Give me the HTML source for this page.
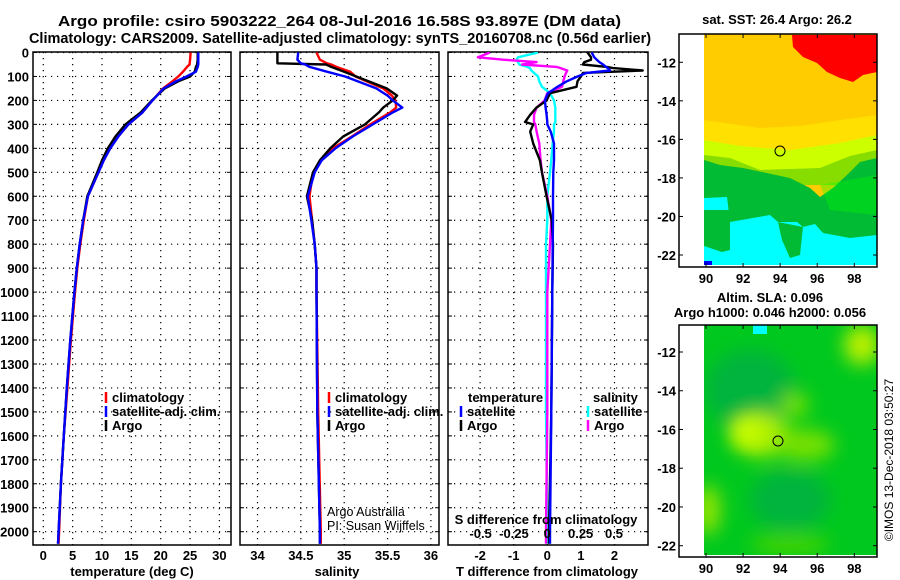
<!DOCTYPE html>
<html><head><meta charset="utf-8"><style>
html,body{margin:0;padding:0;background:#fff;}
svg{display:block;font-family:"Liberation Sans",sans-serif;}
.b{font-weight:bold;font-size:13px;}
.t{font-weight:bold;font-size:14.5px;}
</style></head><body>
<svg id="c" width="900" height="580" viewBox="0 0 900 580" xmlns="http://www.w3.org/2000/svg">
<defs>
<filter id="bl" x="-50%" y="-50%" width="200%" height="200%"><feGaussianBlur stdDeviation="9"/></filter>
<clipPath id="clipB"><rect x="704" y="325" width="173" height="230"/></clipPath>
<clipPath id="c1"><rect x="33" y="52" width="198" height="493"/></clipPath>
<clipPath id="c2"><rect x="240" y="52" width="199" height="493"/></clipPath>
<clipPath id="c3"><rect x="448" y="52" width="200" height="493"/></clipPath>
</defs>
<text class="t" x="58" y="26" textLength="563" lengthAdjust="spacingAndGlyphs">Argo profile: csiro 5903222_264 08-Jul-2016 16.58S 93.897E (DM data)</text>
<text class="t" x="340" y="43" text-anchor="middle">Climatology: CARS2009. Satellite-adjusted climatology: synTS_20160708.nc (0.56d earlier)</text>

<!-- SST map -->
<g>
<rect x="704" y="34" width="173" height="231" fill="#ffcc00"/>
<polygon fill="#ff0000" points="792,35 877,35 877,72 863,75 853,82 840,78 827,72 817,63 803,57 793,47"/>
<polygon fill="#ffe000" points="704,120 760,128 800,126 840,120 877,115 877,160 704,160"/>
<polygon fill="#ccff00" points="704,140 740,146 790,150 840,143 877,135 877,182 704,175"/>
<polygon fill="#88dd00" points="704,155 730,158 760,170 820,168 850,156 877,150 877,185 704,185"/>
<polygon fill="#00bb33" points="704,160 720,165 743,168 790,178 810,188 820,197 833,188 847,175 860,162 877,158 877,240 704,240"/>
<polygon fill="#00ff00" opacity="0.35" points="820,185 877,175 877,215 830,210"/>
<polygon fill="#00ffff" points="704,198 727,197 730,222 770,215 778,222 797,222 803,227 815,224 823,233 850,238 877,235 877,265 704,265"/>
<polygon fill="#00bb33" points="704,210 730,210 730,250 722,252 704,246"/>
<polygon fill="#00bb33" points="778,222 803,227 800,255 790,258 782,240"/>
<rect x="704" y="261" width="8" height="4" fill="#0000ff"/>
<circle cx="780" cy="151" r="5" fill="none" stroke="#000" stroke-width="1"/>
</g>
<!-- SLA map -->
<g clip-path="url(#clipB)">
<rect x="704" y="325" width="173" height="230" fill="#00c81e"/>
<g filter="url(#bl)">
<ellipse cx="750" cy="390" rx="45" ry="40" fill="#00b43c"/>
<ellipse cx="790" cy="500" rx="40" ry="30" fill="#00b43c"/>
<ellipse cx="760" cy="435" rx="30" ry="22" fill="#aaee00"/>
<ellipse cx="805" cy="445" rx="30" ry="16" fill="#77e000"/>
<ellipse cx="795" cy="405" rx="14" ry="12" fill="#77e000"/>
<ellipse cx="862" cy="345" rx="18" ry="20" fill="#bbf000"/>
<ellipse cx="708" cy="510" rx="12" ry="25" fill="#99e600"/>
<ellipse cx="790" cy="545" rx="40" ry="10" fill="#44d400"/>
</g>
<ellipse cx="748" cy="432" rx="14" ry="12" fill="#ccff00" filter="url(#bl)"/>
<rect x="753" y="325" width="14" height="9" fill="#00ffff"/>
<circle cx="778" cy="441" r="5" fill="none" stroke="#000" stroke-width="1"/>
</g>
<g id="axes"></g>
<text class="b" x="777" y="24" text-anchor="middle">sat. SST: 26.4 Argo: 26.2</text>
<text class="b" x="770" y="302" text-anchor="middle">Altim. SLA: 0.096</text>
<text class="b" x="770" y="317" text-anchor="middle">Argo h1000: 0.046 h2000: 0.056</text>
<text x="893" y="460" font-size="12" text-anchor="middle" transform="rotate(-90 893 460)">©IMOS 13-Dec-2018 03:50:27</text>
<text x="327" y="516" font-size="12.5">Argo Australia</text>
<text x="327" y="530" font-size="12.5">PI: Susan Wijffels</text>
</svg>
<script>
// ---- data ----
const tDepth=[0,30,50,60,80,100,120,150,200,250,300,350,400,450,500,600,700,800,900,1000,1200,1400,1600,1800,2000,2050];
const tArgo=[26.3,26.3,26.2,26.0,25.8,25.0,23.0,20.7,18.5,16.6,14.0,12.3,11.0,10.0,9.2,7.5,6.8,6.2,5.7,5.3,4.6,4.0,3.5,3.0,2.6,2.5];
const tSat=[26.4,26.4,26.4,26.3,26.0,24.4,22.6,20.5,18.6,16.9,14.5,12.8,11.4,10.3,9.4,7.6,6.8,6.2,5.7,5.3,4.6,4.0,3.5,3.0,2.6,2.5];
const tClim=[25.1,25.0,24.9,24.5,23.8,23.0,22.0,20.4,18.6,16.9,14.5,12.8,11.4,10.3,9.4,7.6,6.9,6.3,5.8,5.4,4.7,4.1,3.5,3.0,2.7,2.6];
const sDepth=[0,30,45,50,60,80,100,150,180,200,230,250,300,350,400,450,500,600,700,800,900,1000,1500,2000,2050];
const sArgo=[34.23,34.23,34.23,34.79,34.85,35.0,35.14,35.49,35.61,35.56,35.45,35.4,35.24,34.99,34.84,34.72,34.64,34.57,34.63,34.66,34.68,34.68,34.69,34.72,34.72];
const sSat=[34.47,34.46,34.5,34.55,34.6,34.8,35.01,35.37,35.5,35.56,35.67,35.56,35.33,35.1,34.9,34.74,34.66,34.58,34.62,34.66,34.68,34.68,34.69,34.72,34.72];
const sClim=[34.68,34.72,34.8,34.85,34.91,35.07,35.13,35.45,35.55,35.59,35.6,35.53,35.3,35.09,34.87,34.74,34.64,34.6,34.63,34.66,34.68,34.68,34.7,34.73,34.73];
const dDepth=[0,20,30,40,50,60,65,75,85,100,120,143,170,200,230,260,290,300,330,380,450,500,600,700,800,1000,1500,2000,2050];
const dTArgo=[1.2,1.3,1.3,1.1,1.06,1.77,1.96,2.84,1.06,1.0,0.9,0.87,0.08,-0.02,-0.32,-0.51,-0.66,-0.42,-0.51,-0.42,-0.22,-0.16,-0.02,0.13,0.17,0.15,0.12,0.05,0.05];
const dTSat=[1.32,1.4,1.47,1.55,1.66,1.75,1.8,1.87,1.17,0.9,0.58,0.3,0.02,-0.07,-0.05,-0.02,0,0,0.1,0.2,0.2,0.18,0.17,0.17,0.16,0.15,0.12,0.08,0.08];
const dSArgo=[-0.43,-0.52,-0.33,-0.08,-0.19,0.07,0.1,0.15,0.14,0.13,0.12,0.11,0,-0.02,-0.08,-0.1,-0.1,-0.09,-0.08,-0.06,-0.05,-0.04,0,0.03,0.02,0,0,-0.01,-0.01];
const dSSat=[-0.07,-0.22,-0.23,-0.22,-0.21,-0.15,-0.13,-0.12,-0.1,-0.07,-0.06,-0.04,0.02,0.05,0.06,0.06,0.06,0.05,0.05,0.04,0.03,0.02,0,0,-0.01,-0.01,-0.01,0,0];
const depthTicks=[0,100,200,300,400,500,600,700,800,900,1000,1100,1200,1300,1400,1500,1600,1700,1800,1900,2000];
const tTicks=[0,5,10,15,20,25,30];
const sTicks=[34,34.5,35,35.5,36];
const dTTicks=[-2,-1,0,1,2];
const dSTicks=[-0.5,-0.25,0,0.25,0.5];
const latTicks=[-12,-14,-16,-18,-20,-22];
const lonTicks=[90,92,94,96,98];

const NS='http://www.w3.org/2000/svg';
const g=document.getElementById('axes');
function el(tag,at,parent,txt){const e=document.createElementNS(NS,tag);for(const k in at)e.setAttribute(k,at[k]);if(txt!==undefined)e.textContent=txt;(parent||g).appendChild(e);return e;}
const yD=d=>52.5+d*0.2396;
const xT=v=>43.3+v*5.87;
const xS=v=>257.5+(v-34)*86.7;
const xDT=v=>547.3+v*33.6;
const xDS=v=>547.3+v*133.4;

function panel(name,x0,x1,ticks,fx,fmt){
  const p=el('g',{});
  
  
  ticks.forEach(t=>{el('line',{x1:fx(t),x2:fx(t),y1:52,y2:545,stroke:'#000','stroke-dasharray':'1.2,4.8','stroke-width':1.2},p);});
  depthTicks.forEach(d=>{el('line',{x1:x0,x2:x1,y1:yD(d),y2:yD(d),stroke:'#000','stroke-dasharray':'1.2,4.8','stroke-width':1.2},p);
    el('line',{x1:x0,x2:x0+4,y1:yD(d),y2:yD(d),stroke:'#000'},p);el('line',{x1:x1-4,x2:x1,y1:yD(d),y2:yD(d),stroke:'#000'},p);});
  if(fmt){ticks.forEach(t=>{const tx=el('text',{x:fx(t),y:560,'text-anchor':'middle',class:'b'},p,fmt(t));
    
    });}
  el('rect',{x:x0,y:52,width:x1-x0,height:493,fill:'none',stroke:'#000','stroke-width':1.5},p);
  return p;
}
function line(p,xs,ds,fx,color,clip,name){
  const pts=xs.map((v,i)=>fx(v).toFixed(1)+','+yD(ds[i]).toFixed(1)).join(' ');
  const l=el('polyline',{points:pts,fill:'none',stroke:color,'stroke-width':2.4,'stroke-linejoin':'round','clip-path':clip},p);
  
  
}
function legend(p,x,y,color,label,name){
  el('line',{x1:x,x2:x,y1:y-10,y2:y+1,stroke:color,'stroke-width':2.5},p);
  const t=el('text',{x:x+6,y:y,class:'b'},p,label);
  
  
}
// panel 1
const p1=panel('temperature-panel',33,231,tTicks,xT,v=>String(v));
depthTicks.forEach(d=>{const t=el('text',{x:29,y:yD(d)+5,'text-anchor':'end',class:'b'},p1,String(d));
  
  });
line(p1,tClim,tDepth,xT,'#ff0000','url(#c1)','temperature-climatology-line');
line(p1,tArgo,tDepth,xT,'#000000','url(#c1)','temperature-argo-line');
line(p1,tSat,tDepth,xT,'#0000ff','url(#c1)','temperature-satellite-line');
legend(p1,106,402,'#ff0000','climatology','legend-climatology');
legend(p1,106,416,'#0000ff','satellite-adj. clim.','legend-satellite-adj');
legend(p1,106,430,'#000000','Argo','legend-argo');
el('text',{x:132,y:576,'text-anchor':'middle',class:'b'},p1,'temperature (deg C)');
// panel 2
const p2=panel('salinity-panel',240,439,sTicks,xS,v=>String(v));
line(p2,sClim,sDepth,xS,'#ff0000','url(#c2)','salinity-climatology-line');
line(p2,sArgo,sDepth,xS,'#000000','url(#c2)','salinity-argo-line');
line(p2,sSat,sDepth,xS,'#0000ff','url(#c2)','salinity-satellite-line');
legend(p2,329,402,'#ff0000','climatology','legend-climatology-s');
legend(p2,329,416,'#0000ff','satellite-adj. clim.','legend-satellite-adj-s');
legend(p2,329,430,'#000000','Argo','legend-argo-s');
el('text',{x:337,y:576,'text-anchor':'middle',class:'b'},p2,'salinity');
// panel 3
const p3=panel('difference-panel',448,648,dTTicks,xDT,v=>String(v));
line(p3,dSSat,dDepth,xDS,'#00ffff','url(#c3)','salinity-diff-satellite-line');
line(p3,dSArgo,dDepth,xDS,'#ff00ff','url(#c3)','salinity-diff-argo-line');
line(p3,dTArgo,dDepth,xDT,'#000000','url(#c3)','temperature-diff-argo-line');
line(p3,dTSat,dDepth,xDT,'#0000ff','url(#c3)','temperature-diff-satellite-line');
el('text',{x:468,y:402,class:'b'},p3,'temperature');
legend(p3,461,416,'#0000ff','satellite','legend-t-satellite');
legend(p3,461,430,'#000000','Argo','legend-t-argo');
el('text',{x:593,y:402,class:'b'},p3,'salinity');
legend(p3,588,416,'#00ffff','satellite','legend-s-satellite');
legend(p3,588,430,'#ff00ff','Argo','legend-s-argo');
el('text',{x:546,y:524,'text-anchor':'middle',class:'b'},p3,'S difference from climatology');
dSTicks.forEach(v=>{const t=el('text',{x:xDS(v),y:538,'text-anchor':'middle',class:'b'},p3,String(v));
  
  });
el('text',{x:547,y:576,'text-anchor':'middle',class:'b'},p3,'T difference from climatology');
// maps axes
function mapAxes(name,y0,y1,latTop,latScale){
  const m=el('g',{});
  
  
  const fx=v=>706+(v-90)*18.54, fy=v=>latTop+(-12-v)*latScale;
  el('rect',{x:679,y:y0,width:198,height:y1-y0,fill:'none',stroke:'#000','stroke-width':1.5},m);
  lonTicks.forEach(v=>{el('line',{x1:fx(v),x2:fx(v),y1:y0,y2:y0+4,stroke:'#000'},m);el('line',{x1:fx(v),x2:fx(v),y1:y1-4,y2:y1,stroke:'#000'},m);
    const t=el('text',{x:fx(v),y:y1+16,'text-anchor':'middle',class:'b'},m,String(v));
    
    });
  latTicks.forEach(v=>{el('line',{x1:679,x2:683,y1:fy(v),y2:fy(v),stroke:'#000'},m);el('line',{x1:873,x2:877,y1:fy(v),y2:fy(v),stroke:'#000'},m);
    const t=el('text',{x:676,y:fy(v)+5,'text-anchor':'end',class:'b'},m,String(v));
    
    });
}
mapAxes('sst-map-axes',34,267,62.3,19.27);
mapAxes('sla-map-axes',325,557,352,19.37);
</script>
</body></html>
